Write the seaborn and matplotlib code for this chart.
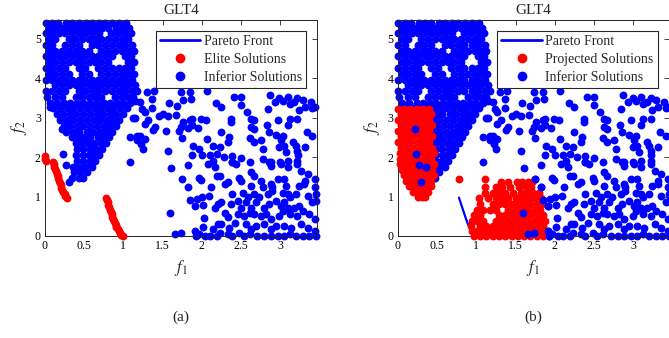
import matplotlib
matplotlib.use('Agg')
import matplotlib.pyplot as plt
from matplotlib.lines import Line2D
import pandas as pd
import seaborn as sns

# dense cluster of inferior solutions, row by row: (f2, [f1 ...])
wedge_rows = [
    (5.40, [0.01, 0.09, 0.17, 0.27, 0.35, 0.43, 0.52, 0.60, 0.69, 0.77, 0.86, 0.94, 1.03]),
    (5.27, [0.05, 0.13, 0.22, 0.31, 0.39, 0.47, 0.56, 0.64, 0.73, 0.80, 0.90, 0.98, 1.07]),
    (5.13, [0.01, 0.09, 0.18, 0.26, 0.34, 0.43, 0.51, 0.60, 0.69, 0.84, 0.93, 1.02, 1.10]),
    (4.98, [0.05, 0.13, 0.30, 0.38, 0.47, 0.56, 0.64, 0.72, 0.81, 0.89, 0.98, 1.06]),
    (4.84, [0.01, 0.09, 0.26, 0.34, 0.43, 0.60, 0.68, 0.77, 0.85, 0.94, 1.02, 1.11]),
    (4.69, [0.05, 0.13, 0.22, 0.31, 0.39, 0.47, 0.56, 0.72, 0.80, 0.89, 0.98, 1.06, 1.13]),
    (4.55, [0.01, 0.09, 0.18, 0.26, 0.35, 0.43, 0.51, 0.60, 0.68, 0.77, 0.85, 1.02, 1.10]),
    (4.40, [0.05, 0.13, 0.22, 0.30, 0.39, 0.47, 0.56, 0.64, 0.72, 0.81, 1.06, 1.14]),
    (4.25, [0.01, 0.09, 0.18, 0.26, 0.43, 0.51, 0.68, 0.77, 0.85, 0.94, 1.02, 1.10]),
    (4.11, [0.05, 0.13, 0.22, 0.30, 0.47, 0.56, 0.72, 0.81, 0.89, 0.98, 1.06, 1.14]),
    (3.96, [0.01, 0.09, 0.18, 0.26, 0.34, 0.43, 0.51, 0.60, 0.68, 0.77, 0.85, 0.94, 1.02, 1.11]),
    (3.82, [0.13, 0.22, 0.30, 0.39, 0.47, 0.56, 0.64, 0.72, 0.81, 0.89, 0.98, 1.06, 1.15]),
    (3.67, [0.01, 0.09, 0.18, 0.26, 0.43, 0.51, 0.60, 0.68, 0.77, 0.85, 0.94, 1.02, 1.11, 1.17]),
    (3.53, [0.02, 0.13, 0.22, 0.39, 0.47, 0.56, 0.64, 0.72, 0.89, 0.98, 1.06, 1.12]),
    (3.38, [0.06, 0.15, 0.24, 0.32, 0.41, 0.49, 0.58, 0.66, 0.75, 0.83, 0.92, 1.00, 1.08]),
    (3.23, [0.10, 0.19, 0.28, 0.36, 0.45, 0.53, 0.62, 0.70, 0.79, 0.87, 0.96, 1.04]),
    (3.08, [0.15, 0.23, 0.32, 0.40, 0.49, 0.57, 0.66, 0.74, 0.83, 0.91, 0.99]),
    (2.94, [0.19, 0.28, 0.36, 0.45, 0.53, 0.62, 0.70, 0.79, 0.87, 0.94]),
    (2.79, [0.24, 0.32, 0.41, 0.49, 0.58, 0.66, 0.75, 0.83, 0.90]),
    (2.64, [0.27, 0.36, 0.44, 0.53, 0.61, 0.70, 0.78, 0.86]),
    (2.50, [0.34, 0.42, 0.50, 0.58, 0.67, 0.75, 0.82]),
    (2.35, [0.39, 0.47, 0.55, 0.63, 0.71, 0.78]),
    (2.20, [0.41, 0.49, 0.57, 0.65, 0.73]),
    (2.06, [0.40, 0.48, 0.56, 0.63, 0.69]),
    (1.91, [0.41, 0.49, 0.57, 0.64]),
    (1.76, [0.39, 0.47, 0.54, 0.60]),
    (1.62, [0.37, 0.45, 0.53]),
    (1.48, [0.35, 0.43, 0.48]),
]

# scattered inferior solutions (f1, f2)
scatter_pts = [
    (0.06, 3.26), (0.22, 2.72), (0.23, 2.08), (0.27, 1.81), (0.36, 1.76), (0.30, 1.36),
    (1.12, 3.00), (1.17, 2.42), (1.17, 2.54), (1.15, 3.43),
    (1.30, 3.65), (1.39, 3.67), (1.37, 3.48), (1.21, 3.39), (1.24, 3.21), (1.27, 3.14),
    (1.36, 3.24), (1.15, 2.98), (1.32, 2.94), (1.27, 2.84), (1.40, 2.76), (1.38, 2.69),
    (1.46, 3.03), (1.51, 3.10), (1.57, 3.03), (1.58, 3.38), (1.69, 3.29), (1.67, 3.07),
    (1.73, 3.65), (1.76, 3.44), (1.86, 3.48), (1.85, 3.65), (2.07, 3.66), (2.18, 3.38),
    (1.76, 2.88), (1.74, 2.76), (1.71, 2.67), (1.85, 2.93), (1.88, 2.97), (1.83, 2.73),
    (1.87, 2.80), (1.95, 2.73), (1.99, 2.97), (2.05, 2.93), (1.55, 2.65), (1.75, 2.48),
    (1.09, 2.50), (1.21, 2.54), (1.27, 2.46), (1.23, 2.33), (1.25, 2.21), (1.57, 2.16),
    (1.89, 2.29), (1.97, 2.21), (1.88, 2.04), (2.00, 2.04), (2.07, 2.46), (2.14, 2.29),
    (2.10, 2.04), (2.19, 2.08), (1.09, 1.88), (1.82, 1.81), (2.14, 1.91), (2.08, 1.82),
    (2.41, 3.52), (2.50, 3.52), (2.50, 3.31), (2.25, 3.26), (2.58, 3.14), (2.37, 2.97),
    (2.37, 2.88), (2.63, 2.97), (2.67, 2.93), (2.63, 2.76), (2.66, 2.71), (2.25, 2.63),
    (2.35, 2.50), (2.33, 2.37), (2.61, 2.48), (2.67, 2.37), (2.76, 2.44),
    (2.87, 3.56), (2.93, 3.39), (2.99, 3.49), (3.03, 3.41), (3.10, 3.52), (3.12, 3.35),
    (3.18, 3.39), (3.22, 3.49), (3.29, 3.44), (3.32, 3.26), (3.24, 3.18), (3.39, 3.39),
    (3.44, 3.26), (2.84, 3.22), (2.97, 2.93), (3.12, 2.97), (3.10, 2.82), (3.22, 2.97),
    (2.83, 2.82), (2.86, 2.64), (2.95, 2.56), (3.03, 2.54), (3.01, 2.42), (3.05, 2.29),
    (2.99, 2.25), (3.07, 2.12), (3.17, 2.37), (3.20, 2.29), (3.22, 2.16), (3.32, 2.25),
    (3.34, 2.63), (3.41, 2.54), (2.78, 2.21), (2.78, 1.95), (2.88, 1.88), (3.00, 1.87),
    (3.10, 1.91), (3.23, 2.04), (3.22, 1.91), (2.28, 1.99), (2.38, 2.02), (2.50, 1.97),
    (2.39, 1.87), (2.23, 2.25), (3.41, 3.23),
    (1.61, 1.72), (1.75, 1.44), (1.97, 1.48), (1.99, 1.42), (2.17, 1.76), (2.19, 1.53),
    (1.82, 1.23), (2.12, 1.23), (1.85, 0.91), (1.94, 0.93), (2.00, 0.99), (2.09, 1.02),
    (1.91, 0.76), (2.01, 0.79), (2.17, 0.72), (2.21, 0.81), (1.59, 0.59), (2.03, 0.45),
    (2.02, 0.23), (2.14, 0.17), (2.21, 0.30), (1.66, 0.04), (1.74, 0.08), (1.91, 0.13),
    (1.92, 0.00), (2.04, 0.00), (1.97, 0.06), (2.10, 0.00), (2.19, 0.00),
    (2.39, 1.87), (2.44, 1.82), (2.61, 1.87), (2.86, 1.87), (2.88, 1.78), (3.01, 1.82),
    (3.10, 1.74), (3.22, 1.82), (3.27, 1.65), (3.35, 1.57), (3.44, 1.44), (3.32, 1.40),
    (2.23, 1.53), (2.29, 1.31), (2.33, 1.36), (2.48, 1.48), (2.50, 1.40), (2.63, 1.61),
    (2.67, 1.53), (2.63, 1.27), (2.76, 1.40), (2.78, 1.23), (2.88, 1.31), (2.90, 1.23),
    (2.97, 1.44), (3.05, 1.44), (3.07, 1.27), (3.24, 1.27), (3.31, 1.31), (3.44, 1.23),
    (2.39, 1.06), (2.52, 1.10), (2.59, 0.98), (2.67, 1.06), (2.73, 0.98), (2.84, 1.06),
    (2.90, 1.14), (3.03, 1.10), (3.10, 1.06), (3.12, 0.98), (3.20, 1.06), (3.35, 1.02),
    (3.46, 1.06), (3.46, 0.89),
    (2.25, 0.85), (2.37, 0.81), (2.46, 0.89), (2.50, 0.72), (2.56, 0.85), (2.63, 0.72),
    (2.69, 0.85), (2.80, 0.72), (2.86, 0.81), (2.95, 0.89), (3.01, 0.76), (3.05, 0.85),
    (3.10, 0.72), (3.18, 0.72), (3.24, 0.76), (3.41, 0.85),
    (2.29, 0.59), (2.33, 0.47), (2.46, 0.55), (2.54, 0.51), (2.61, 0.59), (2.67, 0.55),
    (2.76, 0.51), (2.82, 0.55), (2.88, 0.42), (2.99, 0.51), (3.03, 0.64), (3.12, 0.55),
    (3.22, 0.51), (3.29, 0.64), (3.37, 0.55), (3.44, 0.42),
    (2.25, 0.30), (2.35, 0.21), (2.42, 0.34), (2.56, 0.30), (2.63, 0.17), (2.69, 0.25),
    (2.80, 0.30), (2.88, 0.17), (2.95, 0.25), (3.05, 0.25), (3.14, 0.21), (3.27, 0.30),
    (3.35, 0.21),
    (2.23, 0.08), (2.33, 0.04), (2.39, 0.00), (2.48, 0.08), (2.54, 0.00), (2.61, 0.04),
    (2.71, 0.00), (2.80, 0.00), (2.88, 0.00), (2.97, 0.00), (3.05, 0.00), (3.12, 0.04),
    (3.20, 0.00), (3.29, 0.00), (3.37, 0.00), (3.46, 0.00), (3.44, 0.13),
]

# inferior solutions that sit on top of the projected ones in (b)
over_b_pts = [
    (0.22, 2.72), (0.23, 2.08), (0.27, 1.81), (0.36, 1.76), (0.30, 1.36),
    (1.59, 0.59), (1.66, 0.04), (1.74, 0.08), (1.82, 1.23), (1.85, 0.91),
    (1.75, 1.44), (1.91, 0.76), (1.91, 0.13), (1.92, 0.00),
]

# elite solutions (a)
elite_f1 = [0.00, 0.00, 0.01, 0.10, 0.11, 0.12, 0.13, 0.14, 0.15, 0.16, 0.17, 0.18, 0.19,
            0.20, 0.21, 0.22, 0.23, 0.25, 0.26, 0.28,
            0.78, 0.79, 0.80, 0.81, 0.82, 0.83, 0.84, 0.85, 0.86, 0.87, 0.88, 0.89, 0.90,
            0.91, 0.93, 0.94, 0.96, 0.97, 0.99]
elite_f2 = [2.02, 1.95, 1.89, 1.88, 1.82, 1.76, 1.70, 1.64, 1.58, 1.52, 1.46, 1.40, 1.34,
            1.28, 1.22, 1.17, 1.12, 1.06, 1.01, 0.97,
            0.95, 0.90, 0.85, 0.79, 0.73, 0.67, 0.61, 0.55, 0.49, 0.43, 0.37, 0.32, 0.27,
            0.22, 0.17, 0.12, 0.07, 0.03, 0.00]

# projected solutions (b), row by row: (f2, [f1 ...])
projected_rows = [
    (3.22, [0.00, 0.08, 0.16, 0.24, 0.32, 0.40]),
    (3.08, [0.04, 0.12, 0.20, 0.28, 0.36, 0.43]),
    (2.94, [0.00, 0.08, 0.16, 0.24, 0.32, 0.40]),
    (2.80, [0.04, 0.12, 0.20, 0.28, 0.36, 0.44]),
    (2.66, [0.00, 0.08, 0.16, 0.24, 0.32, 0.40]),
    (2.52, [0.04, 0.12, 0.20, 0.28, 0.36, 0.44]),
    (2.38, [0.00, 0.08, 0.16, 0.24, 0.32, 0.40]),
    (2.24, [0.04, 0.12, 0.20, 0.28, 0.36, 0.44]),
    (2.10, [0.03, 0.08, 0.16, 0.24, 0.32, 0.40, 0.46]),
    (1.96, [0.03, 0.10, 0.18, 0.26, 0.34, 0.42]),
    (1.82, [0.03, 0.07, 0.15, 0.23, 0.31, 0.39, 0.46]),
    (1.68, [0.06, 0.12, 0.20, 0.28, 0.36, 0.44]),
    (1.54, [0.08, 0.15, 0.23, 0.31, 0.39, 0.46]),
    (1.40, [0.11, 0.18, 0.26, 0.34, 0.42]),
    (1.26, [0.15, 0.22, 0.30, 0.38, 0.43]),
    (1.12, [0.20, 0.27, 0.35, 0.39]),
    (1.00, [0.26, 0.31, 0.35]),
    (1.44, [0.78, 1.11]),
    (1.37, [1.32, 1.41, 1.52, 1.58, 1.66, 1.71]),
    (1.24, [1.11, 1.25, 1.33, 1.43, 1.55, 1.63, 1.70]),
    (1.10, [1.11, 1.21, 1.29, 1.37, 1.47, 1.57, 1.64, 1.72, 1.80]),
    (0.95, [1.03, 1.15, 1.25, 1.33, 1.41, 1.50, 1.58, 1.66, 1.74, 1.82]),
    (0.80, [1.05, 1.21, 1.29, 1.37, 1.45, 1.53, 1.61, 1.69, 1.77, 1.84]),
    (0.66, [1.01, 1.09, 1.17, 1.25, 1.41, 1.49, 1.57, 1.65, 1.73, 1.81]),
    (0.52, [0.97, 1.05, 1.29, 1.37, 1.45, 1.53, 1.61, 1.69, 1.77, 1.85]),
    (0.38, [0.95, 1.01, 1.09, 1.25, 1.33, 1.41, 1.49, 1.57, 1.65, 1.73, 1.81, 1.88]),
    (0.25, [0.93, 1.05, 1.13, 1.21, 1.29, 1.37, 1.45, 1.53, 1.61, 1.69, 1.77, 1.85]),
    (0.12, [0.95, 1.01, 1.09, 1.17, 1.25, 1.33, 1.41, 1.49, 1.57, 1.65, 1.73, 1.81, 1.88]),
    (0.00, [0.97, 1.05, 1.13, 1.21, 1.29, 1.37, 1.45, 1.53, 1.61, 1.69, 1.77, 1.85]),
]

# Pareto front, three disconnected pieces
front_f1 = [0.00, 0.01, 0.02,
            0.10, 0.13, 0.16, 0.19, 0.22, 0.25, 0.28,
            0.78, 0.80, 0.83, 0.86, 0.89, 0.92, 0.96, 1.00]
front_f2 = [2.08, 1.98, 1.90,
            1.88, 1.70, 1.52, 1.34, 1.17, 1.05, 0.97,
            0.97, 0.85, 0.67, 0.49, 0.32, 0.19, 0.07, 0.00]
front_seg = [0, 0, 0, 1, 1, 1, 1, 1, 1, 1, 2, 2, 2, 2, 2, 2, 2, 2]

x_ticks = [0, 0.5, 1, 1.5, 2, 2.5, 3]
x_tick_labels = ['0', '0.5', '1', '1.5', '2', '2.5', '3']
y_ticks = [0, 1, 2, 3, 4, 5]


def rows_to_df(rows):
    f1, f2 = [], []
    for y, xs in rows:
        for x in xs:
            f1.append(x)
            f2.append(y)
    return pd.DataFrame({'f1': f1, 'f2': f2})


def pts_to_df(pts):
    return pd.DataFrame(pts, columns=['f1', 'f2'])


inferior = pd.concat([rows_to_df(wedge_rows), pts_to_df(scatter_pts)], ignore_index=True)
over_b = pts_to_df(over_b_pts)
elite = pd.DataFrame({'f1': elite_f1, 'f2': elite_f2})
projected = rows_to_df(projected_rows)
front = pd.DataFrame({'f1': front_f1, 'f2': front_f2, 'seg': front_seg})

sns.set_style('white')
plt.rcParams['font.family'] = ['Liberation Serif', 'DejaVu Serif']
plt.rcParams['mathtext.fontset'] = 'stix'

axis_color = '#262626'
blue = (0, 0, 1)
red = (1, 0, 0)
ms = 32

fig = plt.figure(figsize=(6.69, 3.38), dpi=100)
ax_a = fig.add_axes([45 / 669, 102 / 338, 272 / 669, 216 / 338])
ax_b = fig.add_axes([397.7 / 669, 102 / 338, 271 / 669, 216 / 338])


def dots(data, ax, color, z):
    sns.scatterplot(data=data, x='f1', y='f2', color=color, s=ms, linewidth=0,
                    ax=ax, legend=False, clip_on=False, zorder=z)


def draw_front(ax, z):
    sns.lineplot(data=front, x='f1', y='f2', units='seg', estimator=None, sort=False,
                 color=blue, lw=1.6, ax=ax, legend=False, zorder=z)


# (a)
dots(inferior, ax_a, blue, 1)
draw_front(ax_a, 2)
dots(elite, ax_a, red, 3)

# (b)
dots(inferior, ax_b, blue, 1)
draw_front(ax_b, 2)
dots(projected, ax_b, red, 3)
dots(over_b, ax_b, blue, 4)

for ax, xmax, lab, red_label in [(ax_a, 3.47, '(a)', 'Elite Solutions'),
                                 (ax_b, 3.45, '(b)', 'Projected Solutions')]:
    ax.set_xlim(0, xmax)
    ax.set_ylim(0, 5.47)
    ax.set_xticks(x_ticks)
    ax.set_xticklabels(x_tick_labels)
    ax.set_yticks(y_ticks)
    ax.tick_params(direction='in', top=True, right=True, length=3.5, width=0.6,
                   colors=axis_color, labelsize=8.5, pad=3, labelcolor='black')
    for sp in ax.spines.values():
        sp.set_color(axis_color)
        sp.set_linewidth(0.7)
    ax.set_title('GLT4', fontsize=11, pad=4)
    ax.set_xlabel('$f_1$', fontsize=12, labelpad=4)
    ax.set_ylabel('$f_2$', fontsize=12, labelpad=4)
    handles = [Line2D([], [], color=blue, lw=2),
               Line2D([], [], marker='o', ls='', color=red, ms=6),
               Line2D([], [], marker='o', ls='', color=blue, ms=6)]
    leg = ax.legend(handles, ['Pareto Front', red_label, 'Inferior Solutions'],
                    loc='upper right', fontsize=10, frameon=True, fancybox=False,
                    framealpha=1, edgecolor=axis_color, borderaxespad=0.8,
                    handlelength=2.9, handletextpad=0.25, borderpad=0.3,
                    labelspacing=0.35)
    leg.get_frame().set_linewidth(0.8)
    leg.set_zorder(10)
    box = ax.get_position()
    fig.text(box.x0 + box.width / 2, 21 / 338, lab, ha='center', va='center', fontsize=11)

fig.savefig('out.png', dpi=100)
